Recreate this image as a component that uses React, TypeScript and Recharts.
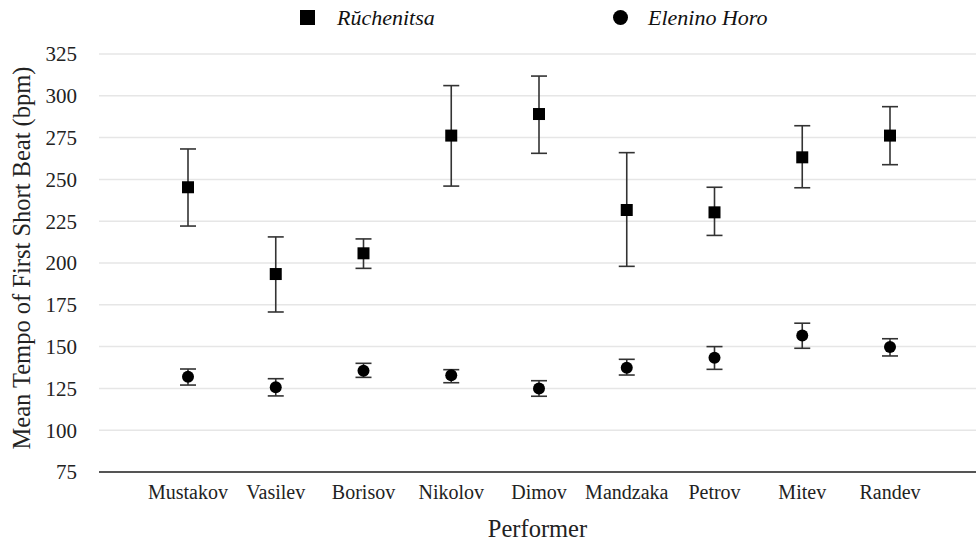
import React from 'react';
import { ComposedChart, Scatter, XAxis, YAxis, CartesianGrid, ErrorBar, Legend } from 'recharts';

const performers = ['Mustakov', 'Vasilev', 'Borisov', 'Nikolov', 'Dimov', 'Mandzaka', 'Petrov', 'Mitev', 'Randev'];
const ruchenitsaMean = [245.3, 193.4, 205.8, 276.2, 289.1, 231.7, 230.3, 263.2, 276.2];
const ruchenitsaUpper = [268.2, 215.6, 214.4, 306.1, 311.8, 266.0, 245.3, 282.1, 293.5];
const ruchenitsaLower = [222.1, 170.7, 196.8, 246.0, 265.6, 198.0, 216.5, 245.0, 258.8];
const eleninoMean = [132.0, 125.7, 135.6, 132.8, 125.0, 137.4, 143.4, 156.7, 149.8];
const eleninoUpper = [136.6, 130.8, 140.0, 136.2, 129.6, 142.4, 150.0, 164.0, 154.7];
const eleninoLower = [127.0, 120.5, 131.6, 128.4, 120.3, 133.0, 136.4, 149.0, 144.4];
const yTicks = [75, 100, 125, 150, 175, 200, 225, 250, 275, 300, 325];
const seriesNames = ['Rŭchenitsa', 'Elenino Horo'];

const data = performers.map((name, i) => ({
  name,
  r: ruchenitsaMean[i],
  rErr: [ruchenitsaMean[i] - ruchenitsaLower[i], ruchenitsaUpper[i] - ruchenitsaMean[i]],
  e: eleninoMean[i],
  eErr: [eleninoMean[i] - eleninoLower[i], eleninoUpper[i] - eleninoMean[i]],
}));

const FONT = '"Liberation Serif", "Times New Roman", serif';

const SquareShape = (p: any) => (
  <rect x={p.cx - 6} y={p.cy - 6} width={12} height={12} fill="#000" />
);
const CircleShape = (p: any) => <circle cx={p.cx} cy={p.cy} r={6} fill="#000" />;

const LegendContent = () => (
  <div style={{ position: 'relative', width: 976, height: 34, fontFamily: FONT, fontStyle: 'italic', fontSize: 22, color: '#111' }}>
    <svg style={{ position: 'absolute', left: 300, top: 10 }} width={15} height={15}>
      <rect x={0} y={0} width={15} height={15} fill="#000" />
    </svg>
    <span style={{ position: 'absolute', left: 337, top: 7, lineHeight: '22px', whiteSpace: 'nowrap', fontFamily: FONT }}>{seriesNames[0]}</span>
    <svg style={{ position: 'absolute', left: 613, top: 10 }} width={15} height={15}>
      <circle cx={7.5} cy={7.5} r={7.5} fill="#000" />
    </svg>
    <span style={{ position: 'absolute', left: 648, top: 7, lineHeight: '22px', whiteSpace: 'nowrap', fontFamily: FONT }}>{seriesNames[1]}</span>
  </div>
);

const YLabel = () => {
  const cy = 258;
  return (
    <text
      x={21}
      y={cy}
      transform={`rotate(-90, 21, ${cy})`}
      textAnchor="middle"
      dominantBaseline="central"
      style={{ fontFamily: FONT }}
      fontSize={24.5}
      fill="#222"
    >
      Mean Tempo of First Short Beat (bpm)
    </text>
  );
};

export default function App() {
  return (
    <div style={{ position: 'absolute', left: 0, top: 0, background: '#fff', fontFamily: FONT }}>
      <ComposedChart
        width={976}
        height={543}
        data={data}
        margin={{ top: 54, right: 0, bottom: 0, left: 0 }}
        style={{ fontFamily: FONT }}
      >
        <CartesianGrid horizontal vertical={false} stroke="#e6e6e6" strokeWidth={1.5} />
        <XAxis
          dataKey="name"
          type="category"
          scale="point"
          padding={{ left: 89, right: 86 }}
          interval={0}
          height={71}
          axisLine={{ stroke: '#555', strokeWidth: 2 }}
          tickLine={false}
          tickMargin={7}
          tick={{ fontSize: 20, fill: '#222', style: { fontFamily: FONT } }}
          label={{ value: 'Performer', position: 'insideBottom', offset: 6, fontSize: 24.5, fill: '#222', style: { fontFamily: FONT } }}
        />
        <YAxis
          type="number"
          domain={[75, 325]}
          ticks={yTicks}
          interval={0}
          width={99}
          axisLine={false}
          tickLine={false}
          tickMargin={16}
          tick={{ fontSize: 21, fill: '#222', style: { fontFamily: FONT } }}
          label={<YLabel />}
        />
        <Legend
          verticalAlign="middle"
          align="center"
          layout="horizontal"
          wrapperStyle={{ top: 0, left: 0, width: 976, fontFamily: FONT }}
          content={<LegendContent />}
        />
        <Scatter name={seriesNames[0]} dataKey="r" fill="#000" shape={SquareShape} isAnimationActive={false}>
          <ErrorBar dataKey="rErr" direction="y" width={8} stroke="#333" strokeWidth={1.6} />
        </Scatter>
        <Scatter name={seriesNames[1]} dataKey="e" fill="#000" shape={CircleShape} isAnimationActive={false}>
          <ErrorBar dataKey="eErr" direction="y" width={8} stroke="#333" strokeWidth={1.6} />
        </Scatter>
      </ComposedChart>
    </div>
  );
}
